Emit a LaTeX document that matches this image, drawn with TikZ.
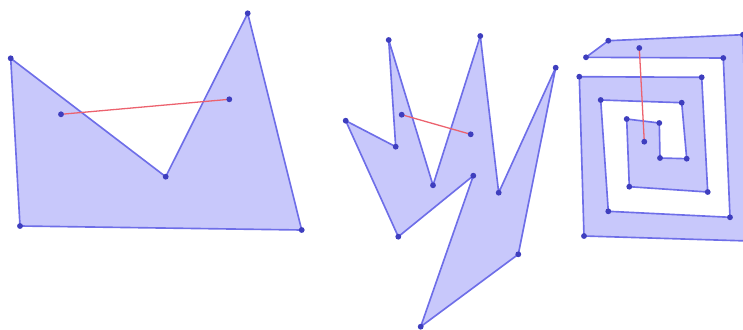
\documentclass[tikz,border=0pt]{standalone}
\usepackage{tikz}
\usetikzlibrary{positioning,backgrounds}
\definecolor{polyfill}{RGB}{200,200,251}
\definecolor{polyrule}{RGB}{110,110,232}
\definecolor{vertexblue}{RGB}{62,62,190}
\definecolor{segred}{RGB}{236,98,110}
\tikzset{
  poly/.style={draw=polyrule,fill=polyfill,line width=1.4pt,line join=round},
  vtx/.style={circle,fill=vertexblue,inner sep=0pt,minimum size=1.75mm},
  seg/.style={draw=segred,line width=1.1pt,shorten <=-0.8mm,shorten >=-0.8mm}
}

\begin{document}
\begin{tikzpicture}[x=0.03cm,y=-0.03cm]
  \useasboundingbox (0,0) rectangle (743,329);
  \clip (0,0) rectangle (743,329);

  % left polygon
  \node[vtx] (la) at (10.7,58.3) {};
  \node[vtx] (lb) at (20,226) {};
  \node[vtx] (lc) at (301.7,230) {};
  \node[vtx] (ld) at (247.7,13.3) {};
  \node[vtx] (le) at (165.7,176.7) {};
  \node[vtx] (lm) at (61,114.3) {};
  \node[vtx] (ln) at (229.3,99.3) {};

  % middle polygon
  \node[vtx] (ma) at (388.7,40) {};
  \node[vtx] (mb) at (433,185.3) {};
  \node[vtx] (mc) at (480.3,36) {};
  \node[vtx] (md) at (498.7,192.7) {};
  \node[vtx] (me) at (555.7,67.7) {};
  \node[vtx] (mf) at (518.3,254.3) {};
  \node[vtx] (mg) at (420.7,326.7) {};
  \node[vtx] (mh) at (473.3,175.7) {};
  \node[vtx] (mi) at (398.3,236.7) {};
  \node[vtx] (mj) at (345.7,120.7) {};
  \node[vtx] (mk) at (395.7,146.7) {};
  \node[vtx] (mm) at (401.7,114.7) {};
  \node[vtx] (mn) at (470.7,134.3) {};

  % spiral
  \node[vtx] (sa) at (608.3,40.7) {};
  \node[vtx] (sb) at (743,34.7) {};
  \coordinate (sc) at (749,241);
  \node[vtx] (sd) at (584,236) {};
  \node[vtx] (se) at (579.3,76.7) {};
  \node[vtx] (sf) at (701.7,77.3) {};
  \node[vtx] (sg) at (707.7,192) {};
  \node[vtx] (sh) at (629.3,186.7) {};
  \node[vtx] (si) at (626.7,119) {};
  \node[vtx] (sj) at (659.3,123) {};
  \node[vtx] (sk) at (660,158) {};
  \node[vtx] (sl) at (686.7,158.7) {};
  \node[vtx] (sm) at (681.7,102.7) {};
  \node[vtx] (sn) at (600.7,100) {};
  \node[vtx] (so) at (608.3,211.3) {};
  \node[vtx] (sp) at (730,217.3) {};
  \node[vtx] (sq) at (723.3,58) {};
  \node[vtx] (sr) at (586,57.3) {};
  \node[vtx] (su) at (639.3,48) {};
  \node[vtx] (sv) at (644.3,141.7) {};

  \begin{scope}[on background layer]
    \draw[poly] (la.center) -- (lb.center) -- (lc.center) -- (ld.center) -- (le.center) -- cycle;
    \draw[poly] (ma.center) -- (mb.center) -- (mc.center) -- (md.center) -- (me.center) -- (mf.center)
      -- (mg.center) -- (mh.center) -- (mi.center) -- (mj.center) -- (mk.center) -- cycle;
    \draw[poly] (sa.center) -- (sb.center) -- (sc) -- (sd.center) -- (se.center) -- (sf.center)
      -- (sg.center) -- (sh.center) -- (si.center) -- (sj.center) -- (sk.center) -- (sl.center)
      -- (sm.center) -- (sn.center) -- (so.center) -- (sp.center) -- (sq.center) -- (sr.center) -- cycle;
    % segments between inner points
    \draw[seg] (lm) -- (ln);
    \draw[seg] (mm) -- (mn);
    \draw[seg] (su) -- (sv);
  \end{scope}
\end{tikzpicture}
\end{document}
